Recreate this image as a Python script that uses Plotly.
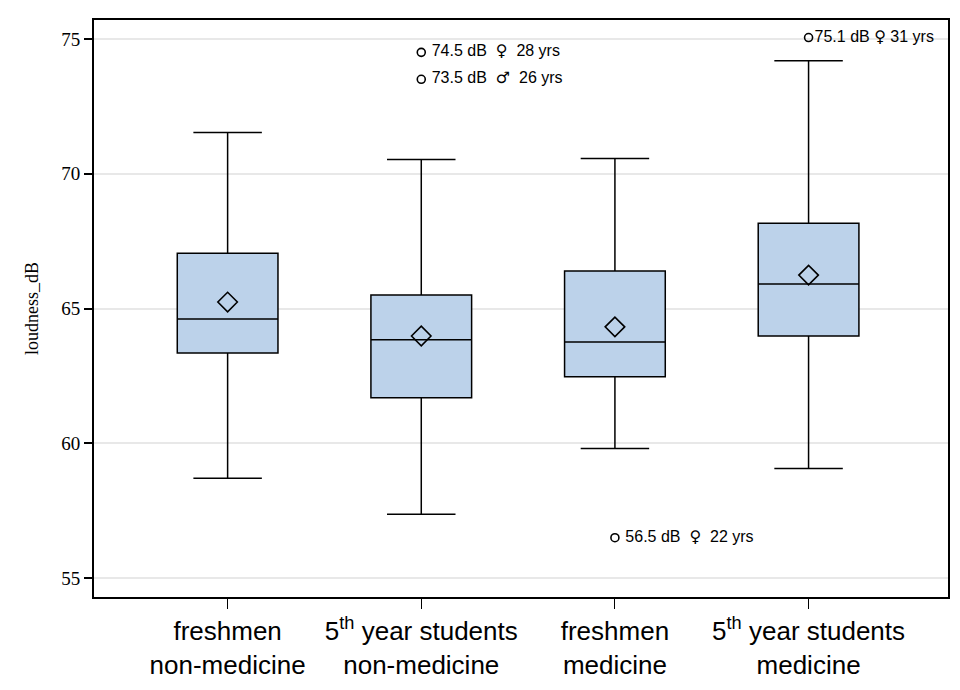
import plotly.graph_objects as go

# groups and box statistics (loudness in dB)
groups = ['freshmen<br>non-medicine', '5<sup>th</sup> year students<br>non-medicine',
          'freshmen<br>medicine', '5<sup>th</sup> year students<br>medicine']
q1 = [63.35, 61.69, 62.47, 63.98]
median = [64.61, 63.84, 63.76, 65.91]
q3 = [67.05, 65.50, 66.39, 68.16]
lower_whisker = [58.70, 57.37, 59.81, 59.07]
upper_whisker = [71.53, 70.53, 70.56, 74.19]
means = [65.24, 63.98, 64.32, 66.24]

# outliers: group index, value, label
outlier_group = [1, 1, 2, 3]
outlier_value = [74.5, 73.5, 56.5, 75.05]
outlier_dB = ['74.5', '73.5', '56.5', '75.1']
outlier_sex = ['♀', '♂', '♀', '♀']
outlier_age = ['28', '26', '22', '31']

sym = '<span style="font-family:DejaVu Sans">%s</span>'
outlier_label = [' %s dB  %s  %s yrs' % (d, sym % s, a) for d, s, a in zip(outlier_dB, outlier_sex, outlier_age)]
outlier_label[3] = '%s dB %s %s yrs' % (outlier_dB[3], sym % outlier_sex[3], outlier_age[3])

fig = go.Figure()

fig.add_trace(go.Box(
    x=groups,
    q1=q1, median=median, q3=q3,
    lowerfence=lower_whisker, upperfence=upper_whisker,
    fillcolor='#BCD2EA',
    line=dict(color='black', width=1.5),
    width=0.52,
    whiskerwidth=0.68,
    boxpoints=False,
    showlegend=False,
))

fig.add_trace(go.Scatter(
    x=groups, y=means, mode='markers',
    marker=dict(symbol='diamond-open', size=15, color='black', line=dict(width=1.6)),
    showlegend=False,
))

fig.add_trace(go.Scatter(
    x=[groups[i] for i in outlier_group], y=outlier_value,
    mode='markers+text',
    text=outlier_label, textposition='middle right',
    textfont=dict(family='Liberation Sans, Arial, sans-serif', size=16, color='black'),
    marker=dict(symbol='circle-open', size=8, color='black', line=dict(width=1.6)),
    showlegend=False, cliponaxis=False,
))

fig.update_layout(
    width=960, height=690,
    margin=dict(l=86, r=20, t=10, b=101),
    plot_bgcolor='white', paper_bgcolor='white',
    xaxis=dict(
        range=[-0.69, 3.72],
        showline=True, linecolor='black', linewidth=2, mirror=True,
        ticks='outside', ticklen=10, tickcolor='black', tickwidth=1.2,
        tickfont=dict(family='Liberation Sans, Arial, sans-serif', size=26, color='black'),
        showgrid=False,
    ),
    yaxis=dict(
        range=[54.3, 75.7],
        tickvals=[55, 60, 65, 70, 75],
        showline=True, linecolor='black', linewidth=2, mirror=True,
        ticks='outside', ticklen=8, tickcolor='black', tickwidth=1.5,
        tickfont=dict(family='Liberation Serif, Times New Roman, serif', size=19, color='black'),
        showgrid=True, gridcolor='#E8E8E8', gridwidth=1.5,
        zeroline=False,
        title=dict(text='loudness_dB', font=dict(family='Liberation Serif, Times New Roman, serif', size=18, color='black'), standoff=18),
    ),
)

fig.write_html('out.html')
